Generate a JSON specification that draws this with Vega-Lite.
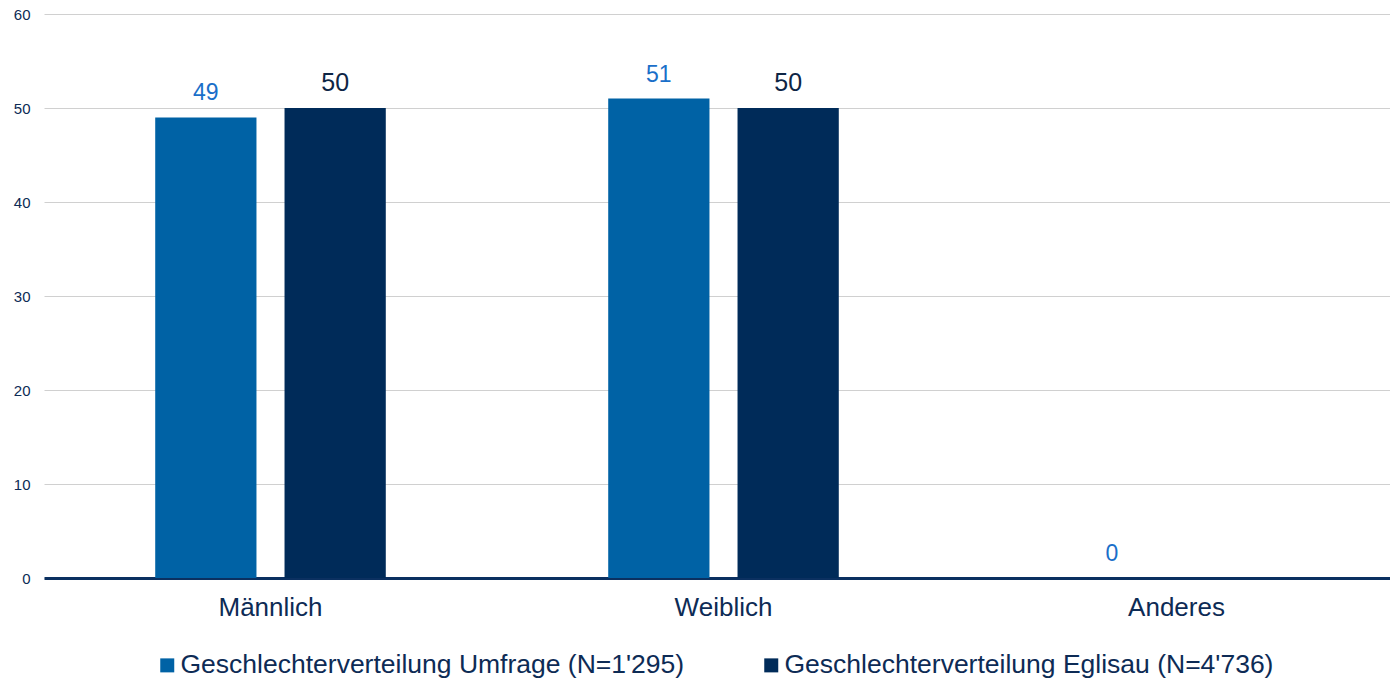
{
  "$schema": "https://vega.github.io/schema/vega-lite/v6.json",
  "autosize": "none",
  "width": 1359,
  "height": 564,
  "padding": {"left": 44, "top": 14, "right": 0, "bottom": 100},
  "background": "white",
  "config": {
    "font": "Liberation Sans",
    "view": {"stroke": null}
  },
  "data": {
    "values": [
      {"kategorie": "Männlich", "serie": "Geschlechterverteilung Umfrage (N=1'295)", "wert": 49},
      {"kategorie": "Männlich", "serie": "Geschlechterverteilung Eglisau (N=4'736)", "wert": 50},
      {"kategorie": "Weiblich", "serie": "Geschlechterverteilung Umfrage (N=1'295)", "wert": 51},
      {"kategorie": "Weiblich", "serie": "Geschlechterverteilung Eglisau (N=4'736)", "wert": 50},
      {"kategorie": "Anderes", "serie": "Geschlechterverteilung Umfrage (N=1'295)", "wert": 0},
      {"kategorie": "Anderes", "serie": "Geschlechterverteilung Eglisau (N=4'736)", "wert": null}
    ]
  },
  "encoding": {
    "x": {
      "field": "kategorie",
      "type": "nominal",
      "sort": ["Männlich", "Weiblich", "Anderes"],
      "scale": {"paddingInner": 0, "paddingOuter": 0},
      "axis": {
        "title": null,
        "labelAngle": 0,
        "labelFontSize": 26,
        "labelColor": "#0d2b55",
        "labelPadding": 16,
        "ticks": false,
        "domainColor": "#0b3060",
        "domainWidth": 3,
        "grid": false
      }
    },
    "xOffset": {
      "field": "serie",
      "type": "nominal",
      "sort": ["Geschlechterverteilung Umfrage (N=1'295)", "Geschlechterverteilung Eglisau (N=4'736)"],
      "scale": {"paddingInner": 0.217, "paddingOuter": 0.86}
    },
    "y": {
      "field": "wert",
      "type": "quantitative",
      "scale": {"domain": [0, 60]},
      "axis": {
        "title": null,
        "values": [0, 10, 20, 30, 40, 50, 60],
        "labelOverlap": false,
        "domain": false,
        "ticks": false,
        "labelFontSize": 15,
        "labelColor": "#0d2b55",
        "labelPadding": 14,
        "gridColor": "#d0d0d0",
        "gridWidth": 1
      }
    }
  },
  "layer": [
    {
      "mark": {"type": "bar"},
      "encoding": {
        "color": {
          "field": "serie",
          "type": "nominal",
          "sort": ["Geschlechterverteilung Umfrage (N=1'295)", "Geschlechterverteilung Eglisau (N=4'736)"],
          "scale": {"range": ["#0062a5", "#002b59"]},
          "legend": {
            "title": null,
            "orient": "none",
            "legendX": 110,
            "legendY": 638,
            "direction": "horizontal",
            "labelFontSize": 26.5,
            "labelColor": "#0d2b55",
            "symbolType": "square",
            "symbolSize": 196,
            "symbolStrokeWidth": 0,
            "labelOffset": 0,
            "columnPadding": 73,
            "labelLimit": 800
          }
        }
      }
    },
    {
      "transform": [{"filter": "isValid(datum.wert)"}],
      "mark": {"type": "text", "baseline": "alphabetic", "dy": -17},
      "encoding": {
        "text": {"field": "wert", "type": "quantitative"},
        "color": {
          "condition": {"test": "datum.serie === \"Geschlechterverteilung Umfrage (N=1'295)\"", "value": "#1a6fc9"},
          "value": "#0d2545"
        },
        "size": {
          "condition": {"test": "datum.serie === \"Geschlechterverteilung Umfrage (N=1'295)\"", "value": 23},
          "value": 25
        }
      }
    }
  ]
}
